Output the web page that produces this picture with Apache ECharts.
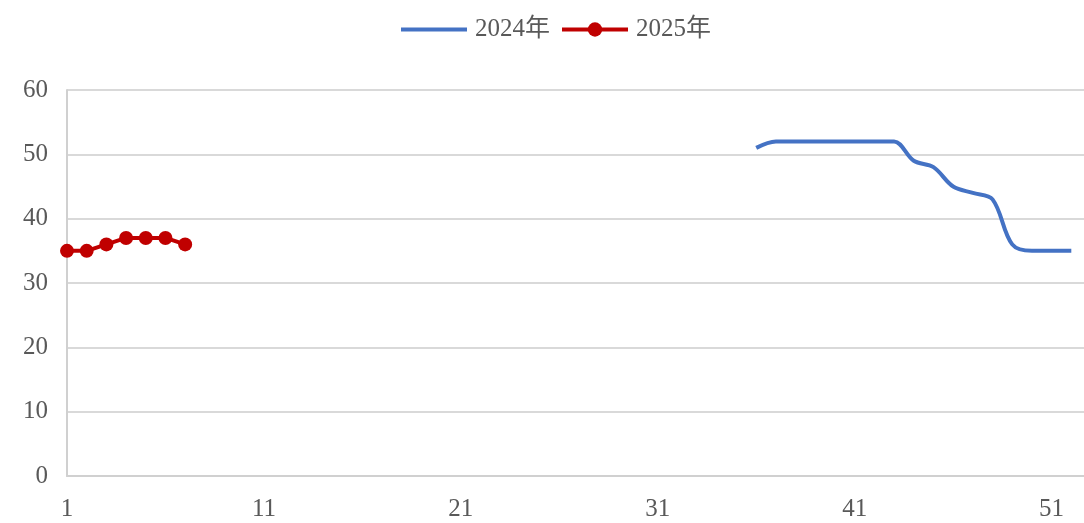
<!DOCTYPE html>
<html>
<head>
<meta charset="utf-8">
<script src="https://cdn.jsdelivr.net/npm/echarts@6/dist/echarts.min.js"></script>
<style>
html,body{margin:0;padding:0;background:#fff;overflow:hidden;width:1084px;height:523px;}
#c{width:1100px;height:523px;}
</style>
</head>
<body>
<div id="c"></div>
<script>
const weeks = [];
for (let i = 1; i <= 53; i++) weeks.push(String(i));
const seriesNames = ['2024年', '2025年'];
const values2024 = [
  null,null,null,null,null,null,null,null,null,null,
  null,null,null,null,null,null,null,null,null,null,
  null,null,null,null,null,null,null,null,null,null,
  null,null,null,null,null,
  51,52,52,52,52,52,52,52,49,48,45,44,43,36,35,35,35
];
const values2025 = [35,35,36,37,37,37,36];
const yTicks = {min:0, max:60, interval:10};

const font = "'Liberation Serif','DejaVu Serif','Noto Sans CJK SC',serif";
const chart = echarts.init(document.getElementById('c'), null, {renderer:'canvas'});
chart.setOption({
  animation:false,
  textStyle:{fontFamily:font},
  legend:{
    top:12, left:394,
    itemWidth:66, itemHeight:18, itemGap:10,
    lineStyle:{width:4},
    textStyle:{fontFamily:font, fontSize:25, color:'#595959', padding:[0,0,0,3]},
    data:[
      {name:seriesNames[0], itemStyle:{opacity:0}},
      {name:seriesNames[1]}
    ]
  },
  grid:{left:67, top:90, width:1024, bottom:47, containLabel:false},
  xAxis:{
    type:'category', data:weeks, boundaryGap:false,
    axisLine:{show:true, lineStyle:{color:'#d0d0d0', width:2}},
    axisTick:{show:false},
    axisLabel:{interval:9, margin:21, fontSize:25, color:'#595959', fontFamily:font},
    splitLine:{show:false}
  },
  yAxis:{
    type:'value', min:yTicks.min, max:yTicks.max, interval:yTicks.interval,
    axisLine:{show:true, lineStyle:{color:'#d0d0d0', width:2}},
    axisTick:{show:false},
    axisLabel:{margin:19, fontSize:25, color:'#595959', fontFamily:font},
    splitLine:{lineStyle:{color:'#d9d9d9', width:2}}
  },
  series:[
    {name:seriesNames[0], type:'line', data:values2024, smooth:0.35, showSymbol:false, symbol:'none',
     lineStyle:{color:'#4472C4', width:4}, itemStyle:{color:'#4472C4'}},
    {name:seriesNames[1], type:'line', data:values2025, symbol:'circle', symbolSize:14,
     showSymbol:true, showAllSymbol:true,
     lineStyle:{color:'#C00000', width:4}, itemStyle:{color:'#C00000'}}
  ]
});
</script>
</body>
</html>
